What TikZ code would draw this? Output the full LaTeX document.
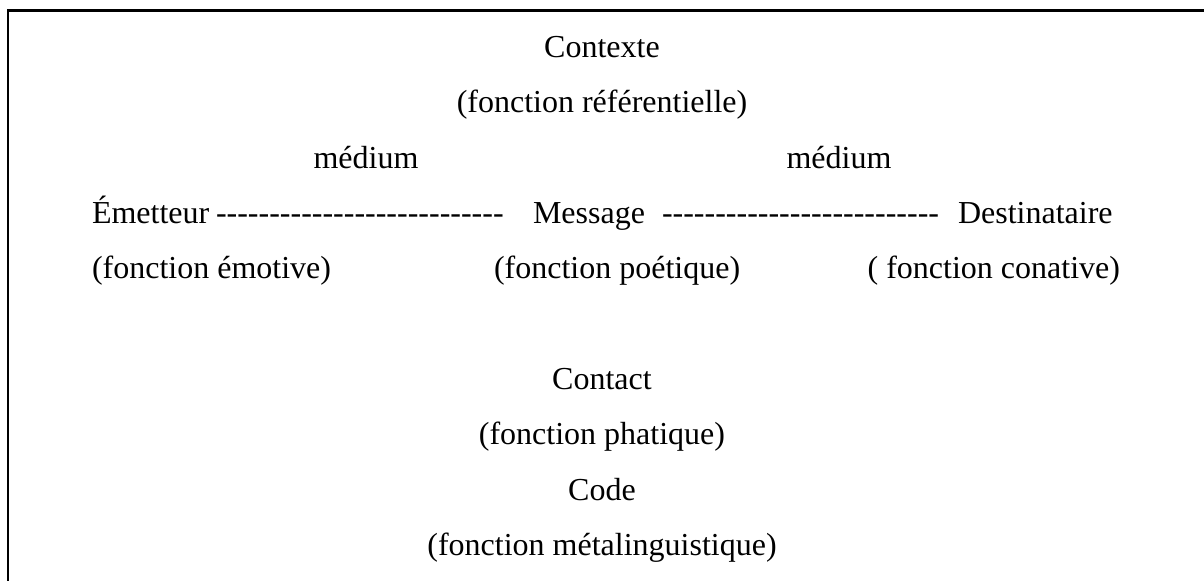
\documentclass[tikz,border=0pt]{standalone}
\usepackage{fontspec}
\setmainfont{Liberation Serif}
\newcommand\hyphenrun[1]{\foreach\k in {1,...,#1}{-\kern0pt}}
\begin{document}
\begin{tikzpicture}[x=1pt,y=-1pt,
  lbl/.style={inner sep=0pt,outer sep=0pt,font=\fontsize{32}{38}\selectfont},
  frame/.style={line width=2.2pt,black}]
\useasboundingbox (0,0) rectangle (1204,581);
% open frame: top and left edges only
\coordinate (tl) at (8,10.5);
\coordinate (tr) at (1204,10.5);
\coordinate (bl) at (8,581);
\draw[frame] (tr) -- (tl) -- (bl);

% upper block
\node[lbl,anchor=base] (ctx) at (602,57) {Contexte};
\node[lbl,anchor=base] (ref) at (602,112) {(fonction référentielle)};
\node[lbl,anchor=base] (med1) at (366,168) {médium};
\node[lbl,anchor=base] (med2) at (839,168) {médium};

% main line
\node[lbl,anchor=base west] (em) at (92,223) {Émetteur};
\node[lbl,anchor=base west] (d1) at (216,223) {\hyphenrun{27}};
\node[lbl,anchor=base west] (msg) at (533,223) {Message};
\node[lbl,anchor=base west] (d2) at (662,223) {\hyphenrun{26}};
\node[lbl,anchor=base west] (dest) at (958,223) {Destinataire};

% functions of the main line
\node[lbl,anchor=base west] (emo) at (92,278) {(fonction émotive)};
\node[lbl,anchor=base west] (poe) at (494,278) {(fonction poétique)};
\node[lbl,anchor=base east] (con) at (1120,278) {( fonction conative)};

% lower block
\node[lbl,anchor=base] (cont) at (602,389) {Contact};
\node[lbl,anchor=base] (pha) at (602,444) {(fonction phatique)};
\node[lbl,anchor=base] (code) at (602,500) {Code};
\node[lbl,anchor=base] (meta) at (602,555) {(fonction métalinguistique)};
\end{tikzpicture}
\end{document}
